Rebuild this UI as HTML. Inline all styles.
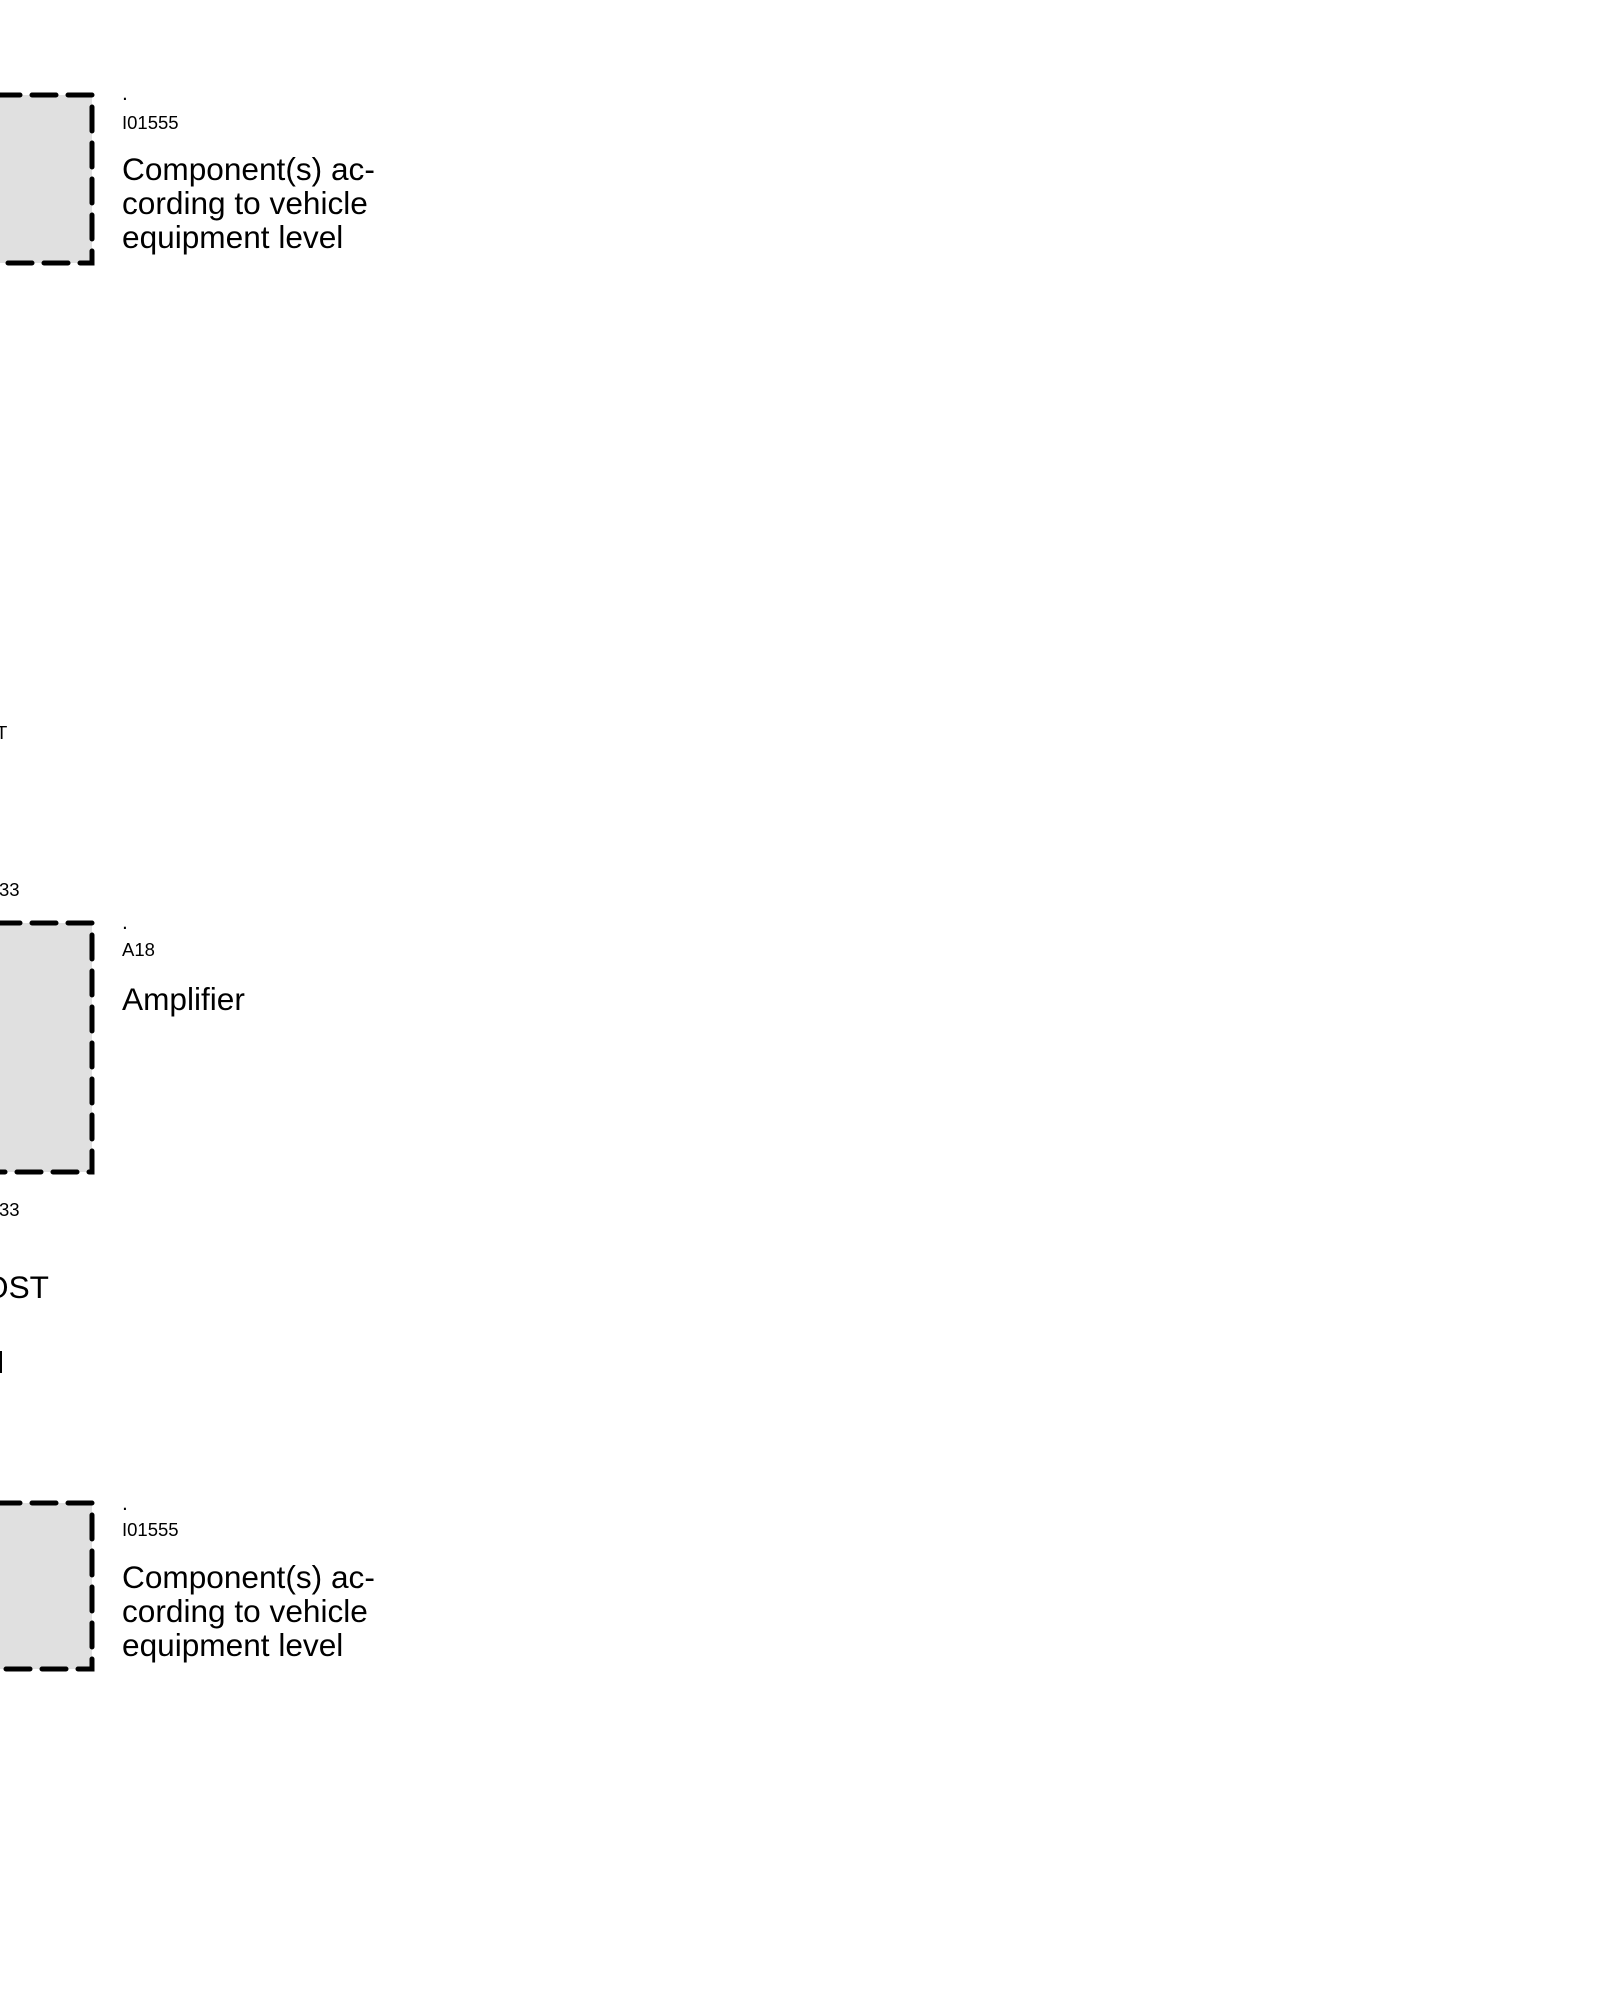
<!DOCTYPE html>
<html><head><meta charset="utf-8"><style>
html,body{margin:0;padding:0;background:#fff;width:1600px;height:2000px;overflow:hidden}
svg{display:block}
text{font-family:"Liberation Sans",Arial,sans-serif;fill:#000}
</style></head><body>
<svg width="1600" height="2000" viewBox="0 0 1600 2000" xmlns="http://www.w3.org/2000/svg">
<g fill="#e0e0e0" stroke="#000" stroke-width="5" stroke-dasharray="24,12" stroke-linecap="round">
<path d="M-40 95 H92 V263 H-40"/>
<path d="M-40 923 H92 V1172 H-40"/>
<path d="M-40 1503 H92 V1669 H-40"/>
</g>
<g font-size="18.5">
<text x="122" y="100" font-size="21">.</text>
<text x="122" y="129">I01555</text>
<text x="-4" y="739">T</text>
<text x="-1" y="896">33</text>
<text x="122" y="929" font-size="21">.</text>
<text x="122" y="956">A18</text>
<text x="-1" y="1216">33</text>
<text x="122" y="1510" font-size="21">.</text>
<text x="122" y="1536">I01555</text>
</g>
<g font-size="31.6">
<text x="122" y="180">Component(s) ac-</text>
<text x="122" y="214">cording to vehicle</text>
<text x="122" y="248">equipment level</text>
<text x="122" y="1010">Amplifier</text>
<text x="-16" y="1298">OST</text>
<text x="122" y="1588">Component(s) ac-</text>
<text x="122" y="1622">cording to vehicle</text>
<text x="122" y="1656">equipment level</text>
</g>
<rect x="0" y="1351" width="2" height="22" fill="#000"/>
</svg>
</body></html>
